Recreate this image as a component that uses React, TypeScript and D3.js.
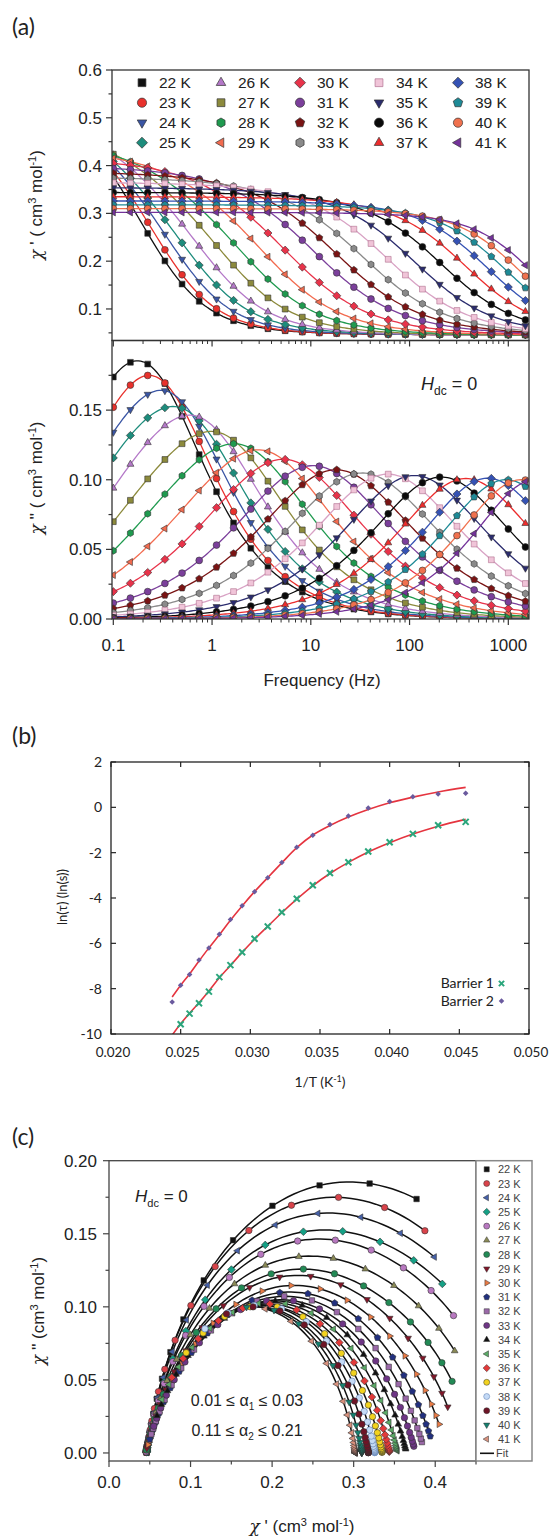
import React from "react";
import * as d3 from "d3";

// ---------------- data ----------------
const temps = [22, 23, 24, 25, 26, 27, 28, 29, 30, 31, 32, 33, 34, 35, 36, 37, 38, 39, 40, 41];
const freqHz = [0.1, 0.149, 0.223, 0.333, 0.497, 0.741, 1.11, 1.65, 2.47, 3.68, 5.5, 8.2, 12.2, 18.3, 27.3, 40.7, 60.8, 90.8, 135, 202, 302, 451, 673, 1000, 1490];
// relaxation parameters read per temperature (main process + slow process)
const chiT = [0.564, 0.533, 0.524, 0.51, 0.494, 0.471, 0.45, 0.432, 0.415, 0.4, 0.3875, 0.376, 0.365, 0.354, 0.344, 0.335, 0.326, 0.318, 0.31, 0.302];
const chiS = [0.046, 0.046, 0.046, 0.046, 0.045, 0.045, 0.045, 0.045, 0.045, 0.045, 0.045, 0.045, 0.045, 0.044, 0.044, 0.044, 0.044, 0.044, 0.044, 0.044];
const mainHz = [0.25, 0.3, 0.42, 0.58, 0.8, 1.3, 2.1, 3.4, 5.6, 10.5, 18, 33, 60, 112, 210, 370, 620, 950, 1350, 1850];
const alphaMain = [0.14, 0.14, 0.15, 0.18, 0.2, 0.22, 0.24, 0.25, 0.28, 0.293, 0.288, 0.281, 0.266, 0.253, 0.24, 0.228, 0.208, 0.197, 0.179, 0.161];
const slowFrac = [0.434, 0.335, 0.358, 0.345, 0.285, 0.256, 0.206, 0.142, 0.059, 0, 0, 0, 0, 0, 0, 0, 0, 0, 0, 0];
const alphaSlow = 0.2;

// panel (b)
const lnTau1 = [-0.64, -0.79, -1.17, -1.54, -1.95, -2.42, -2.9, -3.44, -4.03, -4.63, -5.26, -5.8, -6.39, -6.96, -7.49, -8.13, -8.64, -9.1, -9.57, -10.3];
const lnTau2 = [0.62, 0.59, 0.47, 0.26, -0.03, -0.38, -0.76, -1.23, -1.76, -2.43, -3.11, -3.72, -4.34, -4.95, -5.6, -6.21, -6.74, -7.38, -7.85, -8.59];
const fit1 = [-0.53, -0.83, -1.18, -1.56, -1.97, -2.43, -2.92, -3.46, -4.05, -4.65, -5.25, -5.82, -6.4, -6.98, -7.52, -8.1, -8.62, -9.08, -9.55, -10.05];
const fit2 = [0.88, 0.68, 0.45, 0.2, -0.1, -0.43, -0.8, -1.22, -1.78, -2.45, -3.1, -3.72, -4.35, -4.98, -5.62, -6.2, -6.78, -7.35, -7.85, -8.37];

// tick labels
const xTicksA = [0.1, 1, 10, 100, 1000];
const yTicksTop = [0.1, 0.2, 0.3, 0.4, 0.5, 0.6];
const yTicksBot = [0, 0.05, 0.1, 0.15];
const xTicksB = [0.02, 0.025, 0.03, 0.035, 0.04, 0.045, 0.05];
const yTicksB = [2, 0, -2, -4, -6, -8, -10];
const xTicksC = [0, 0.1, 0.2, 0.3, 0.4];
const yTicksC = [0, 0.05, 0.1, 0.15, 0.2];

// marker styles
const shapesA = ["square", "circle", "triDown", "diamond", "triUp", "square", "hexagon", "triLeft", "diamond", "circle", "pentagon", "hexagon", "square", "triDown", "circle", "triUp", "diamond", "pentagon", "circle", "triLeft"];
const colorsA = ["#111111", "#e8312c", "#3a55a4", "#1d8c7c", "#b478c8", "#8c8a3c", "#1f9a4f", "#f26b4f", "#e8334a", "#7b3f9b", "#7a1414", "#8a8a8a", "#f0c4d8", "#2b2c6e", "#0a0a0a", "#ec2d2d", "#3552b4", "#1e8a96", "#f0714e", "#74329a"];
const lineColorsA = ["#111111", "#e8312c", "#3a55a4", "#1d8c7c", "#b478c8", "#8c8a3c", "#1f9a4f", "#f26b4f", "#e8334a", "#7b3f9b", "#7a1414", "#8a8a8a", "#d8a2c4", "#2b2c6e", "#0a0a0a", "#ec2d2d", "#3552b4", "#1e8a96", "#f0714e", "#74329a"];
const shapesC = ["square", "circle", "triLeft", "diamond", "circle", "triUp", "circle", "triDown", "triRight", "pentagon", "square", "circle", "triUp", "triLeft", "diamond", "circle", "circle", "circle", "triDown", "triLeft"];
const colorsC = ["#111111", "#d9434a", "#4560a8", "#15a085", "#b878c0", "#8a8a56", "#228a55", "#801628", "#e87a45", "#22307e", "#9a68a8", "#6e3585", "#111111", "#5aaa66", "#e23a3a", "#f2d21e", "#c4daf6", "#6e1426", "#13806f", "#d8907c"];

// ---------------- helpers ----------------
const FONT = "'Liberation Sans', Arial, sans-serif";
const FONT2 = "Lato, 'Open Sans', sans-serif";

function poly(n: number, r: number, rot: number) {
  const pts = d3.range(n).map((k) => {
    const t = rot + (2 * Math.PI * k) / n;
    return [r * Math.sin(t), -r * Math.cos(t)];
  });
  return "M" + pts.map((p) => p[0].toFixed(2) + "," + p[1].toFixed(2)).join("L") + "Z";
}

function markerPath(shape: string, r: number) {
  switch (shape) {
    case "square":
      return `M${-r * 0.85},${-r * 0.85}h${1.7 * r}v${1.7 * r}h${-1.7 * r}Z`;
    case "circle":
      return `M${r},0A${r},${r} 0 1,1 ${-r},0A${r},${r} 0 1,1 ${r},0Z`;
    case "triUp":
      return poly(3, r * 1.2, 0);
    case "triDown":
      return poly(3, r * 1.2, Math.PI);
    case "triLeft":
      return poly(3, r * 1.2, -Math.PI / 2);
    case "triRight":
      return poly(3, r * 1.2, Math.PI / 2);
    case "diamond":
      return poly(4, r * 1.2, 0);
    case "pentagon":
      return poly(5, r * 1.08, 0);
    case "hexagon":
      return poly(6, r * 1.02, 0);
    default:
      return poly(4, r, Math.PI / 4);
  }
}

// one generalized Debye term
function term(f: number, d: number, fp: number, a: number) {
  const u = Math.pow(f / fp, 1 - a);
  const s = Math.sin((a * Math.PI) / 2);
  const c = Math.cos((a * Math.PI) / 2);
  const den = 1 + 2 * u * s + u * u;
  return { re: (d * (1 + u * s)) / den, im: (d * u * c) / den };
}

function chi(f: number, i: number) {
  const d = chiT[i] - chiS[i];
  const slowHz = 1 / (2 * Math.PI * Math.exp(lnTau2[i]));
  const m = term(f, d * (1 - slowFrac[i]), mainHz[i], alphaMain[i]);
  const s = slowFrac[i] > 0 ? term(f, d * slowFrac[i], slowHz, alphaSlow) : { re: 0, im: 0 };
  return { f, re: chiS[i] + m.re + s.re, im: m.im + s.im };
}

const logMin = Math.log10(freqHz[0]);
const logMax = Math.log10(freqHz[freqHz.length - 1]);
const freqFine = d3.range(0, 181).map((i) => Math.pow(10, logMin + (i * (logMax - logMin)) / 180));

const dataPts = temps.map((T, i) => freqHz.map((f) => chi(f, i)));
const fitPts = temps.map((T, i) => freqFine.map((f) => chi(f, i)));

// ---------------- scales ----------------
const xA = d3.scaleLog().domain([0.097, 1620]).range([112, 529]);
const yTop = d3.scaleLinear().domain([0.034, 0.6]).range([340.5, 70]);
const yBot = d3.scaleLinear().domain([0, 0.2]).range([619, 340.5]);

const xB = d3.scaleLinear().domain([0.02, 0.05]).range([111, 529]);
const yB = d3.scaleLinear().domain([-10, 2]).range([1034, 762]);

const xC = d3.scaleLinear().domain([0, 0.45]).range([109, 476]);
const yC = d3.scaleLinear().domain([-0.0055, 0.2]).range([1461, 1160.7]);

const minorLog: number[] = [];
[-1, 0, 1, 2, 3].forEach((e) => {
  for (let k = 2; k <= 9; k++) {
    const v = k * Math.pow(10, e);
    if (v > 0.097 && v < 1620) minorLog.push(v);
  }
});

const AXC = "#333";

function ChiTitle({ primes, x, y, rotate }: any) {
  return (
    <text transform={`translate(${x},${y})${rotate ? " rotate(-90)" : ""}`} textAnchor="middle" fontSize={17} fill="#222">
      <tspan fontStyle="italic" fontFamily="'DejaVu Serif', serif">χ</tspan>
      <tspan>{" " + primes + " ( cm"}</tspan>
      <tspan dy={-6} fontSize={11}>3</tspan>
      <tspan dy={6}>{" mol"}</tspan>
      <tspan dy={-6} fontSize={11}>-1</tspan>
      <tspan dy={6}>)</tspan>
    </text>
  );
}

export default function App() {
  const lineTop = d3.line<any>().x((d) => xA(d.f)).y((d) => yTop(d.re));
  const lineBot = d3.line<any>().x((d) => xA(d.f)).y((d) => yBot(d.im));
  const lineC = d3.line<any>().x((d) => xC(d.re)).y((d) => yC(d.im));
  const invT = temps.map((T) => 1 / T);
  const lineB = d3.line<number>().x((d, i) => xB(invT[i])).y((d) => yB(d)).curve(d3.curveCatmullRom);

  const [x0A, x1A] = xA.range();

  return (
    <svg width={550} height={1537} style={{ position: "absolute", left: 0, top: 0, background: "#fff" }} fontFamily={FONT}>
      <defs>
        <clipPath id="clipTop"><rect x={x0A} y={70} width={x1A - x0A} height={270.5} /></clipPath>
        <clipPath id="clipBot"><rect x={x0A} y={340.5} width={x1A - x0A} height={278.5} /></clipPath>
        <clipPath id="clipB"><rect x={111} y={762} width={418} height={272} /></clipPath>
        <clipPath id="clipC"><rect x={109} y={1160.7} width={367} height={300.3} /></clipPath>
      </defs>
      <rect x={0} y={0} width={550} height={1537} fill="#fff" />

      {/* ================= (a) ================= */}
      <text x={12} y={35} fontFamily={FONT2} fontSize={23} fill="#222">(a)</text>

      <g clipPath="url(#clipTop)">
        {temps.map((T, i) => (
          <path key={"lt" + T} d={lineTop(fitPts[i]) || ""} fill="none" stroke={lineColorsA[i]} strokeWidth={1.3} />
        ))}
        {temps.map((T, i) => (
          <g key={"mt" + T}>
            {dataPts[i].map((p, j) => (
              <path key={j} d={markerPath(shapesA[i], 3.4)} transform={`translate(${xA(p.f)},${yTop(p.re)})`} fill={colorsA[i]} stroke={i === 12 ? "#b0708f" : "#333"} strokeWidth={0.6} />
            ))}
          </g>
        ))}
      </g>
      <g clipPath="url(#clipBot)">
        {temps.map((T, i) => (
          <path key={"lb" + T} d={lineBot(fitPts[i]) || ""} fill="none" stroke={lineColorsA[i]} strokeWidth={1.3} />
        ))}
        {temps.map((T, i) => (
          <g key={"mb" + T}>
            {dataPts[i].map((p, j) => (
              <path key={j} d={markerPath(shapesA[i], 3.4)} transform={`translate(${xA(p.f)},${yBot(p.im)})`} fill={colorsA[i]} stroke={i === 12 ? "#b0708f" : "#333"} strokeWidth={0.6} />
            ))}
          </g>
        ))}
      </g>

      <rect x={x0A} y={70} width={x1A - x0A} height={270.5} fill="none" stroke={AXC} strokeWidth={1.3} />
      <rect x={x0A} y={340.5} width={x1A - x0A} height={278.5} fill="none" stroke={AXC} strokeWidth={1.3} />

      {[340.5, 619].map((yy) => (
        <g key={"xt" + yy}>
          {xTicksA.map((v) => (
            <line key={v} x1={xA(v)} x2={xA(v)} y1={yy} y2={yy + 6} stroke={AXC} strokeWidth={1.2} />
          ))}
          {minorLog.map((v) => (
            <line key={v} x1={xA(v)} x2={xA(v)} y1={yy} y2={yy + 3.5} stroke={AXC} strokeWidth={1} />
          ))}
        </g>
      ))}
      {xTicksA.map((v) => (
        <text key={"xl" + v} x={xA(v)} y={651} textAnchor="middle" fontSize={17} fill="#222">{String(v)}</text>
      ))}
      <text x={322} y={686} textAnchor="middle" fontSize={17} fill="#222">Frequency (Hz)</text>

      {d3.range(0.05, 0.601, 0.05).map((v) => {
        const major = Math.abs(Math.round(v * 10) - v * 10) < 1e-6;
        return <line key={"yt" + v} x1={x0A} x2={x0A - (major ? 6 : 3.5)} y1={yTop(v)} y2={yTop(v)} stroke={AXC} strokeWidth={1.2} />;
      })}
      {yTicksTop.map((v) => (
        <text key={"ytl" + v} x={102} y={yTop(v) + 6} textAnchor="end" fontSize={17} fill="#222">{v.toFixed(1)}</text>
      ))}
      {d3.range(0, 0.176, 0.025).map((v) => {
        const major = Math.abs(Math.round(v * 20) - v * 20) < 1e-6;
        return <line key={"yb" + v} x1={x0A} x2={x0A - (major ? 6 : 3.5)} y1={yBot(v)} y2={yBot(v)} stroke={AXC} strokeWidth={1.2} />;
      })}
      {yTicksBot.map((v) => (
        <text key={"ybl" + v} x={102} y={yBot(v) + 6} textAnchor="end" fontSize={17} fill="#222">{v.toFixed(2)}</text>
      ))}

      <ChiTitle primes="'" x={42} y={205} rotate />
      <ChiTitle primes="''" x={42} y={478} rotate />

      <text x={421} y={390} fontSize={18} fill="#222">
        <tspan fontStyle="italic">H</tspan>
        <tspan dy={5} fontSize={12}>dc</tspan>
        <tspan dy={-5}>{" = 0"}</tspan>
      </text>

      {temps.map((T, i) => {
        const col = Math.floor(i / 4);
        const row = i % 4;
        const mx = 142 + col * 79;
        const my = 82.7 + row * 20;
        return (
          <g key={"la" + T}>
            <path d={markerPath(shapesA[i], 4.6)} transform={`translate(${mx},${my})`} fill={colorsA[i]} stroke={i === 12 ? "#b0708f" : "#333"} strokeWidth={0.7} />
            <text x={mx + 17} y={my + 5.5} fontSize={15.5} fill="#222">{T + " K"}</text>
          </g>
        );
      })}

      {/* ================= (b) ================= */}
      <text x={12} y={744} fontFamily={FONT2} fontSize={23} fill="#222">(b)</text>
      <g clipPath="url(#clipB)">
        <path d={lineB(fit2) || ""} fill="none" stroke="#e5343f" strokeWidth={1.6} />
        <path d={lineB(fit1) || ""} fill="none" stroke="#e5343f" strokeWidth={1.6} />
        {lnTau2.map((v, i) => (
          <path key={"b2" + i} d={markerPath("diamond", 2.3)} transform={`translate(${xB(invT[i])},${yB(v)})`} fill="#6a5a9e" />
        ))}
        {lnTau1.map((v, i) => (
          <g key={"b1" + i} transform={`translate(${xB(invT[i])},${yB(v)})`} stroke="#2aa67c" strokeWidth={2}>
            <line x1={-3} y1={-3} x2={3} y2={3} />
            <line x1={-3} y1={3} x2={3} y2={-3} />
          </g>
        ))}
      </g>
      <rect x={111} y={762} width={418} height={272} fill="none" stroke="#222" strokeWidth={1.3} />
      {xTicksB.map((v) => (
        <g key={"xb" + v}>
          <line x1={xB(v)} x2={xB(v)} y1={1034} y2={1029} stroke="#222" strokeWidth={1.2} />
          <line x1={xB(v)} x2={xB(v)} y1={762} y2={767} stroke="#222" strokeWidth={1.2} />
          <text x={xB(v) + 2} y={1057} textAnchor="middle" fontFamily={FONT2} fontSize={13.5} fill="#222">{v.toFixed(3)}</text>
        </g>
      ))}
      {yTicksB.map((v) => (
        <g key={"yb2" + v}>
          <line x1={111} x2={116} y1={yB(v)} y2={yB(v)} stroke="#222" strokeWidth={1.2} />
          <line x1={529} x2={524} y1={yB(v)} y2={yB(v)} stroke="#222" strokeWidth={1.2} />
          <text x={102} y={yB(v) + 5} textAnchor="end" fontFamily={FONT2} fontSize={14} fill="#222">{String(v)}</text>
        </g>
      ))}
      <text x={320} y={1087} textAnchor="middle" fontFamily={FONT2} fontSize={14} fill="#222">
        <tspan>1/T (K</tspan>
        <tspan dy={-5} fontSize={9}>-1</tspan>
        <tspan dy={5}>)</tspan>
      </text>
      <text transform="translate(67,897) rotate(-90)" textAnchor="middle" fontFamily={FONT2} fontSize={13} fill="#222">ln(τ) (ln(s))</text>
      <text x={494} y={988} textAnchor="end" fontFamily={FONT2} fontSize={14} fill="#222">Barrier 1</text>
      <g transform="translate(501.5,983.5)" stroke="#2aa67c" strokeWidth={2}>
        <line x1={-2.6} y1={-2.6} x2={2.6} y2={2.6} />
        <line x1={-2.6} y1={2.6} x2={2.6} y2={-2.6} />
      </g>
      <text x={494} y={1006} textAnchor="end" fontFamily={FONT2} fontSize={14} fill="#222">Barrier 2</text>
      <path d={markerPath("diamond", 2.3)} transform="translate(501.5,1001)" fill="#6a5a9e" />

      {/* ================= (c) ================= */}
      <text x={12} y={1145} fontFamily={FONT2} fontSize={23} fill="#222">(c)</text>
      <g clipPath="url(#clipC)">
        {temps.map((T, i) => (
          <path key={"lc" + T} d={lineC(fitPts[i]) || ""} fill="none" stroke="#111" strokeWidth={1.5} />
        ))}
        {temps.map((T, i) => (
          <g key={"mc" + T}>
            {dataPts[i].map((p, j) => (
              <path key={j} d={markerPath(shapesC[i], 3.2)} transform={`translate(${xC(p.re)},${yC(p.im)})`} fill={colorsC[i]} stroke={i === 16 ? "#5577aa" : "#333"} strokeWidth={0.6} />
            ))}
          </g>
        ))}
      </g>
      <rect x={109} y={1160.7} width={367} height={300.3} fill="none" stroke="#444" strokeWidth={1.3} />
      {d3.range(0, 0.451, 0.05).map((v) => {
        const major = Math.abs(Math.round(v * 10) - v * 10) < 1e-6;
        return <line key={"xc" + v} x1={xC(v)} x2={xC(v)} y1={1461} y2={1461 + (major ? 6 : 3.5)} stroke="#444" strokeWidth={1.2} />;
      })}
      {xTicksC.map((v) => (
        <text key={"xcl" + v} x={xC(v)} y={1488} textAnchor="middle" fontSize={17} fill="#222">{v.toFixed(1)}</text>
      ))}
      {d3.range(0, 0.201, 0.025).map((v) => {
        const major = Math.abs(Math.round(v * 20) - v * 20) < 1e-6;
        return <line key={"yc" + v} x1={109} x2={109 - (major ? 6 : 3.5)} y1={yC(v)} y2={yC(v)} stroke="#444" strokeWidth={1.2} />;
      })}
      {yTicksC.map((v) => (
        <text key={"ycl" + v} x={97} y={yC(v) + 6} textAnchor="end" fontSize={17} fill="#222">{v.toFixed(2)}</text>
      ))}
      <text x={302} y={1532} textAnchor="middle" fontSize={17} fill="#222">
        <tspan fontStyle="italic" fontFamily="'DejaVu Serif', serif">χ</tspan>
        <tspan>{" ' (cm"}</tspan>
        <tspan dy={-6} fontSize={11}>3</tspan>
        <tspan dy={6}>{" mol"}</tspan>
        <tspan dy={-6} fontSize={11}>-1</tspan>
        <tspan dy={6}>)</tspan>
      </text>
      <text transform="translate(44,1311) rotate(-90)" textAnchor="middle" fontSize={17} fill="#222">
        <tspan fontStyle="italic" fontFamily="'DejaVu Serif', serif">χ</tspan>
        <tspan>{" '' (cm"}</tspan>
        <tspan dy={-6} fontSize={11}>3</tspan>
        <tspan dy={6}>{" mol"}</tspan>
        <tspan dy={-6} fontSize={11}>-1</tspan>
        <tspan dy={6}>)</tspan>
      </text>
      <text x={135} y={1202} fontSize={17} fill="#222">
        <tspan fontStyle="italic">H</tspan>
        <tspan dy={5} fontSize={11}>dc</tspan>
        <tspan dy={-5}>{" = 0"}</tspan>
      </text>
      <text x={247} y={1406} textAnchor="middle" fontSize={16} fill="#222">
        <tspan>{"0.01 ≤ α"}</tspan>
        <tspan dy={4} fontSize={10}>1</tspan>
        <tspan dy={-4}>{"  ≤ 0.03"}</tspan>
      </text>
      <text x={247} y={1436} textAnchor="middle" fontSize={16} fill="#222">
        <tspan>{"0.11 ≤ α"}</tspan>
        <tspan dy={4} fontSize={10}>2</tspan>
        <tspan dy={-4}>{"  ≤ 0.21"}</tspan>
      </text>

      <rect x={476} y={1160.7} width={56} height={300.3} fill="#fff" stroke="#888" strokeWidth={1.5} />
      {temps.map((T, i) => {
        const my = 1169.3 + i * 14.2;
        return (
          <g key={"lc2" + T}>
            <path d={markerPath(shapesC[i], 3)} transform={`translate(486.7,${my})`} fill={colorsC[i]} stroke={i === 16 ? "#5577aa" : "#333"} strokeWidth={0.5} />
            <text x={498} y={my + 4} fontSize={11} fill="#444">{T + " K"}</text>
          </g>
        );
      })}
      <line x1={480} x2={494} y1={1169.3 + 20 * 14.2} y2={1169.3 + 20 * 14.2} stroke="#111" strokeWidth={1.6} />
      <text x={496} y={1169.3 + 20 * 14.2 + 4} fontSize={11} fill="#444">Fit</text>
    </svg>
  );
}
